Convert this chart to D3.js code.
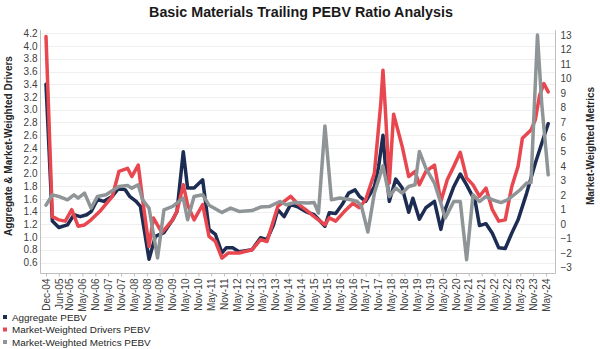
<!DOCTYPE html>
<html><head><meta charset="utf-8">
<script src="https://cdn.jsdelivr.net/npm/d3@7"></script>
<style>body{margin:0;background:#fff}svg{display:block}text{font-family:"Liberation Sans",Arial,sans-serif}</style>
</head><body><svg id="c" width="600" height="349"></svg>
<script>
const title = "Basic Materials Trailing PEBV Ratio Analysis";
const leftTitle = "Aggregate & Market-Weighted Drivers";
const rightTitle = "Market-Weighted Metrics";
const seriesNames = ["Aggregate PEBV","Market-Weighted Drivers PEBV","Market-Weighted Metrics PEBV"];
const seriesColors = ["#1c2c52","#e8474f","#8f9597"];
const xTickLabels = ["Dec-04","Jun-05","Nov-05","May-06","Nov-06","May-07","Nov-07","May-08","Nov-08","May-09","Nov-09","May-10","Nov-10","May-11","Nov-11","May-12","Nov-12","May-13","Nov-13","May-14","Nov-14","May-15","Nov-15","May-16","Nov-16","May-17","Nov-17","May-18","Nov-18","May-19","Nov-19","May-20","Nov-20","May-21","Nov-21","May-22","Nov-22","May-23","Nov-23","May-24"];
const leftTicks = [0.6,0.8,1.0,1.2,1.4,1.6,1.8,2.0,2.2,2.4,2.6,2.8,3.0,3.2,3.4,3.6,3.8,4.0,4.2];
const rightTicks = [-3,-2,-1,0,1,2,3,4,5,6,7,8,9,10,11,12,13];

const aggregate = [["2004-12",3.40],["2005-03",1.25],["2005-06",1.15],["2005-10",1.19],["2006-01",1.35],["2006-04",1.32],["2006-07",1.35],["2006-09",1.40],["2006-12",1.59],["2007-03",1.56],["2007-07",1.64],["2007-10",1.77],["2008-01",1.74],["2008-03",1.64],["2008-06",1.56],["2008-08",1.48],["2008-12",0.65],["2009-03",1.01],["2009-07",1.07],["2009-11",1.27],["2010-01",1.40],["2010-04",2.34],["2010-06",1.77],["2010-09",1.77],["2011-01",1.90],["2011-04",1.12],["2011-07",1.04],["2011-10",0.75],["2011-12",0.83],["2012-03",0.83],["2012-06",0.77],["2012-12",0.80],["2013-04",0.99],["2013-07",0.96],["2013-10",1.19],["2013-12",1.43],["2014-03",1.32],["2014-06",1.51],["2014-09",1.48],["2015-01",1.40],["2015-05",1.35],["2015-10",1.17],["2015-12",1.38],["2016-03",1.37],["2016-06",1.51],["2016-09",1.69],["2016-12",1.74],["2017-02",1.64],["2017-05",1.56],["2017-09",1.79],["2017-11",2.11],["2018-01",2.60],["2018-02",2.16],["2018-04",1.56],["2018-07",1.91],["2018-10",1.77],["2019-01",1.39],["2019-03",1.61],["2019-06",1.28],["2019-09",1.46],["2020-01",1.56],["2020-04",1.12],["2020-06",1.43],["2020-10",1.79],["2021-01",1.99],["2021-04",1.82],["2021-08",1.56],["2021-10",1.18],["2022-01",1.21],["2022-04",1.06],["2022-07",0.83],["2022-10",0.82],["2023-01",1.06],["2023-04",1.27],["2023-08",1.69],["2023-12",2.16],["2024-03",2.47],["2024-06",2.78]];
const drivers = [["2004-12",4.15],["2005-03",1.32],["2005-06",1.27],["2005-09",1.25],["2005-12",1.43],["2006-03",1.17],["2006-06",1.19],["2006-09",1.27],["2007-01",1.40],["2007-07",1.64],["2007-10",2.03],["2008-02",2.08],["2008-04",1.95],["2008-07",2.13],["2008-09",1.59],["2008-12",0.85],["2009-02",1.30],["2009-06",1.07],["2009-11",1.27],["2010-01",1.40],["2010-04",1.82],["2010-06",1.51],["2010-09",1.27],["2011-01",1.51],["2011-04",1.01],["2011-07",0.93],["2011-10",0.67],["2012-01",0.75],["2012-06",0.75],["2012-12",0.80],["2013-04",0.96],["2013-07",0.93],["2013-12",1.48],["2014-06",1.64],["2014-09",1.53],["2015-01",1.43],["2015-05",1.32],["2015-10",1.19],["2015-12",1.30],["2016-03",1.25],["2016-07",1.40],["2016-11",1.53],["2017-02",1.46],["2017-05",1.59],["2017-09",2.00],["2017-12",3.10],["2018-01",3.62],["2018-02",3.05],["2018-04",1.85],["2018-06",2.93],["2018-10",2.42],["2019-01",1.95],["2019-04",2.03],["2019-06",1.82],["2019-09",2.03],["2020-01",2.13],["2020-04",1.56],["2020-07",1.90],["2020-10",2.11],["2021-01",2.33],["2021-04",1.93],["2021-07",1.82],["2021-10",1.64],["2022-01",1.77],["2022-04",1.43],["2022-07",1.25],["2022-10",1.27],["2023-01",1.79],["2023-04",2.11],["2023-06",2.55],["2023-10",2.68],["2023-12",2.84],["2024-02",3.23],["2024-04",3.41],["2024-06",3.28]];
const metrics = [["2004-12",1.30],["2005-03",2.01],["2005-06",1.90],["2005-10",1.67],["2006-01",2.01],["2006-03",1.79],["2006-06",2.13],["2006-09",1.10],["2006-12",1.90],["2007-04",2.01],["2007-10",2.58],["2008-02",2.65],["2008-04",2.47],["2008-07",2.70],["2008-09",1.67],["2008-12",1.10],["2009-04",-2.33],["2009-07",0.98],["2009-11",1.21],["2010-04",1.79],["2010-06",0.30],["2010-09",1.90],["2011-01",2.01],["2011-04",1.30],["2011-10",0.80],["2012-02",1.10],["2012-06",0.87],["2012-12",0.93],["2013-04",1.17],["2013-08",1.20],["2014-01",1.55],["2014-04",1.33],["2014-08",1.48],["2015-02",1.45],["2015-05",1.48],["2015-07",0.76],["2015-10",6.75],["2016-01",1.67],["2016-05",1.79],["2016-10",1.67],["2017-01",1.55],["2017-03",1.25],["2017-06",-0.55],["2017-09",2.13],["2018-01",4.00],["2018-04",1.90],["2018-07",2.47],["2018-10",2.13],["2019-01",2.58],["2019-04",2.70],["2019-06",4.99],["2019-09",3.85],["2020-01",2.82],["2020-04",1.44],["2020-06",0.41],["2020-10",1.55],["2021-01",1.55],["2021-04",-2.45],["2021-07",2.01],["2021-10",1.55],["2022-01",1.90],["2022-04",1.67],["2022-08",1.48],["2022-11",1.67],["2023-02",2.01],["2023-05",2.36],["2023-08",2.82],["2023-10",2.85],["2024-01",13.0],["2024-03",8.3],["2024-06",3.39]];

const svg = d3.select("#c");
const parseYM = d3.timeParse("%Y-%m");
const parseLbl = d3.timeParse("%b-%y");
const x = d3.scaleTime().domain([new Date(2004,11,1), new Date(2024,4,1)]).range([46,546]);
const yL = d3.scaleLinear().domain([0.6,4.2]).range([262.5,33.3]);
const yR = d3.scaleLinear().domain([-3,13]).range([267.7,35]);
const plotL = 40.5, plotR = 555.5, plotT = 30, plotB = 273.5;

// gridlines
svg.append("g").selectAll("line").data(leftTicks).join("line")
  .attr("x1",plotL).attr("x2",plotR).attr("y1",d=>Math.round(yL(d))+0.5).attr("y2",d=>Math.round(yL(d))+0.5)
  .attr("stroke","#efefef").attr("stroke-width",1);

// axis lines
svg.append("line").attr("x1",plotL).attr("x2",plotL).attr("y1",plotT).attr("y2",plotB).attr("stroke","#bfbfbf");
svg.append("line").attr("x1",plotR).attr("x2",plotR).attr("y1",plotT).attr("y2",plotB).attr("stroke","#bfbfbf");

// left axis
const gl = svg.append("g").attr("transform",`translate(${plotL},0)`)
  .call(d3.axisLeft(yL).tickValues(leftTicks).tickFormat(d3.format(".1f")).tickSize(0).tickPadding(3));
gl.select(".domain").remove();
gl.selectAll("text").attr("font-size",10).attr("fill","#404040").attr("font-family","Liberation Sans, Arial");

// right axis
const gr = svg.append("g").attr("transform",`translate(${plotR},0)`)
  .call(d3.axisRight(yR).tickValues(rightTicks).tickFormat(d3.format("d")).tickSize(0).tickPadding(5));
gr.select(".domain").remove();
gr.selectAll("text").attr("font-size",10).attr("fill","#404040").attr("font-family","Liberation Sans, Arial");

// x axis
const xTicks = xTickLabels.map(s=>parseLbl(s));
const gx = svg.append("g").attr("transform",`translate(0,${plotB})`)
  .call(d3.axisBottom(x).tickValues(xTicks).tickFormat(d3.timeFormat("%b-%y")).tickSize(3).tickPadding(2));
gx.select(".domain").attr("d",`M${plotL},0H${plotR}`).attr("stroke","#bfbfbf");
gx.selectAll(".tick line").attr("stroke","#bfbfbf");
gx.selectAll("text").attr("font-size",10).attr("fill","#404040").attr("font-family","Liberation Sans, Arial")
  .attr("transform","rotate(-90)").attr("text-anchor","end").attr("x",-5).attr("y",0).attr("dy","0.32em");

// lines
const lineL = d3.line().x(d=>x(parseYM(d[0]))).y(d=>yL(d[1]));
const lineR = d3.line().x(d=>x(parseYM(d[0]))).y(d=>yR(d[1]));
const series = [[aggregate,lineL],[drivers,lineL],[metrics,lineR]];
series.forEach((s,i)=>{
  svg.append("path").datum(s[0]).attr("d",s[1]).attr("fill","none")
    .attr("stroke",seriesColors[i]).attr("stroke-width",3.5).attr("stroke-linejoin","round").attr("stroke-linecap","round");
});

// title
svg.append("text").attr("x",301).attr("y",17).attr("text-anchor","middle")
  .attr("font-size",14.3).attr("font-weight","bold").attr("fill","#1a1a1a").text(title);
// axis titles
svg.append("text").attr("transform","translate(12,146) rotate(-90)").attr("text-anchor","middle")
  .attr("font-size",10).attr("font-weight","bold").attr("fill","#262626").text(leftTitle);
svg.append("text").attr("transform","translate(594,146) rotate(-90)").attr("text-anchor","middle")
  .attr("font-size",10).attr("font-weight","bold").attr("fill","#262626").text(rightTitle);

// legend
const lg = svg.append("g");
seriesNames.forEach((n,i)=>{
  const yy = 317 + i*12.5;
  lg.append("rect").attr("x",3).attr("y",yy-2).attr("width",4).attr("height",4).attr("fill",seriesColors[i]);
  lg.append("text").attr("x",12).attr("y",yy+3.6).attr("font-size",9.9).attr("fill","#262626").text(n);
});
</script></body></html>
